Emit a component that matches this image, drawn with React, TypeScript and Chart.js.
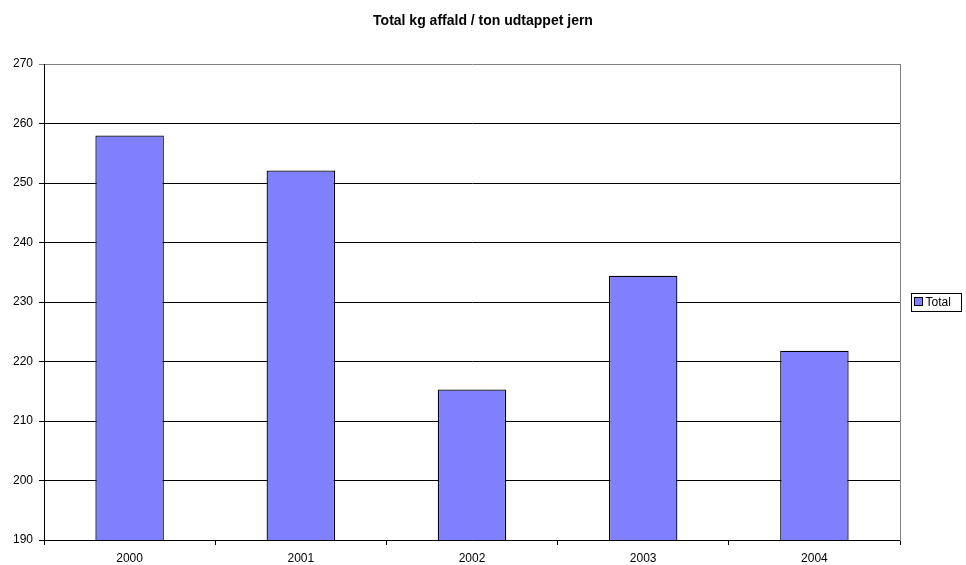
import React, { useEffect, useRef } from "react";
import { Chart, registerables } from "chart.js";

Chart.register(...registerables);

const chartTitle = "Total kg affald / ton udtappet jern";
const categories = ["2000", "2001", "2002", "2003", "2004"];
const seriesName = "Total";
const totalValues = [258.0, 252.1, 215.3, 234.4, 221.8];
const yMin = 190;
const yMax = 270;
const yStep = 10;

const FONT = "'Liberation Sans', Arial, Helvetica, sans-serif";
const BAR_COLOR = "#8080FF";

const legendPlugin = {
  id: "excelLegend",
  afterDraw(chart: any) {
    const ctx = chart.ctx;
    ctx.save();
    ctx.lineWidth = 1;
    // legend box
    const bx = 911.5;
    const by = 293.5;
    ctx.strokeStyle = "#000";
    ctx.strokeRect(bx, by, 50, 18);
    ctx.fillStyle = BAR_COLOR;
    ctx.fillRect(bx + 3, by + 4, 8, 8);
    ctx.strokeRect(bx + 3, by + 4, 8, 8);
    ctx.fillStyle = "#000";
    ctx.font = `12px ${FONT}`;
    ctx.textBaseline = "middle";
    ctx.textAlign = "left";
    ctx.fillText(seriesName, bx + 14, by + 9.5);
    ctx.restore();
  },
};

export default function App() {
  const canvasRef = useRef<HTMLCanvasElement | null>(null);

  useEffect(() => {
    if (!canvasRef.current) return;
    const chart = new Chart(canvasRef.current, {
      type: "bar",
      data: {
        labels: categories,
        datasets: [
          {
            label: seriesName,
            data: totalValues,
            backgroundColor: BAR_COLOR,
            borderColor: "#000",
            borderWidth: 1.3,
            barPercentage: 0.4,
            categoryPercentage: 1,
          },
        ],
      },
      options: {
        responsive: false,
        animation: false,
        layout: { padding: { left: 0, right: 0, top: 0, bottom: 0 } },
        plugins: {
          legend: { display: false },
          tooltip: { enabled: false },
          title: {
            display: true,
            text: chartTitle,
            color: "#000",
            font: { family: FONT, size: 14, weight: "bold" },
            padding: { top: 13, bottom: 34.2 },
          },
        },
        scales: {
          x: {
            grid: {
              offset: true,
              drawOnChartArea: false,
              drawTicks: true,
              tickLength: 5,
              color: "#000",
            },
            border: { display: true, color: "#000" },
            ticks: {
              color: "#000",
              font: { family: FONT, size: 12 },
              padding: 6,
              maxRotation: 0,
            },
            afterFit: (scale: any) => {
              scale.height = 25;
            },
          },
          y: {
            min: yMin,
            max: yMax,
            grid: {
              color: (ctx: any) =>
                ctx.tick && ctx.tick.value === yMax ? "#808080" : "#000",
              tickLength: 5,
            },
            border: { display: true, color: "#000" },
            ticks: {
              stepSize: yStep,
              color: "#000",
              font: { family: FONT, size: 12 },
              padding: 6,
            },
            afterFit: (scale: any) => {
              scale.width = 44;
            },
          },
          yRight: {
            position: "right",
            display: true,
            min: yMin,
            max: yMax,
            grid: { drawOnChartArea: false, drawTicks: false },
            border: { display: true, color: "#808080" },
            ticks: { display: false },
            afterFit: (scale: any) => {
              scale.width = 66;
            },
          },
        },
      },
      plugins: [legendPlugin],
    });
    return () => chart.destroy();
  }, []);

  return (
    <div style={{ position: "absolute", left: 0, top: 0, width: 966, height: 565, background: "#fff" }}>
      <canvas ref={canvasRef} width={966} height={565} style={{ width: 966, height: 565, display: "block" }} />
    </div>
  );
}
